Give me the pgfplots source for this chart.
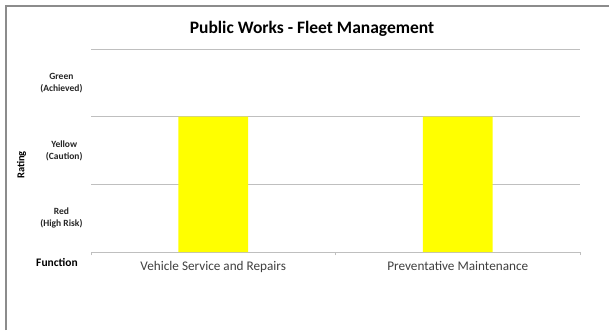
\documentclass[border=0pt]{standalone}
\usepackage{pgfplots}
\pgfplotsset{compat=1.18}
\usepackage{fontspec}
\setmainfont{Carlito}
\definecolor{gridgray}{HTML}{BFBFBF}
\definecolor{framegray}{HTML}{8C8C8C}
\definecolor{lbl}{HTML}{404040}
\definecolor{baryellow}{HTML}{FFFF00}
\begin{document}
\begin{tikzpicture}
\useasboundingbox (0pt,0pt) rectangle (609pt,330pt);
\fill[white] (0pt,0pt) rectangle (609pt,330pt);
\draw[framegray,line width=1.1pt] (6pt,0pt) -- (6pt,324pt) -- (609pt,324pt);
\begin{axis}[
  at={(91pt,78pt)}, anchor=south west,
  scale only axis, width=489pt, height=203pt,
  xmin=0, xmax=2, ymin=0, ymax=3,
  axis lines*=left,
  x axis line style={gridgray, line width=0.8pt},
  y axis line style={draw=none},
  xtick={0,1,2}, xticklabels={},
  xtick style={gridgray, line width=0.8pt},
  ytick style={draw=none},
  major tick length=3pt, tick align=outside,
  extra x ticks={0.5,1.5},
  extra x tick labels={Vehicle Service and Repairs, Preventative Maintenance},
  extra x tick style={major tick length=0pt, tick style={draw=none},
     xticklabel style={font=\fontsize{13.2}{15}\selectfont, text=lbl, yshift=-6pt}},
  ytick={1,2,3}, yticklabels={},
  ymajorgrids, grid style={gridgray, line width=0.8pt},
  extra y ticks={0.5,1.5,2.5},
  extra y tick labels={{Red\\(High Risk)},{Yellow\\(Caution)},{Green\\(Achieved)}},
  extra y tick style={grid=none, major tick length=0pt,
     yticklabel style={font=\bfseries\fontsize{9.5}{12}\selectfont, text=black!85, align=center, xshift=-5pt}},
  ybar, bar width=0.286, bar shift=0pt,
  clip=false,
]
\addplot[fill=baryellow, draw=none] coordinates {(0.5,2) (1.5,2)};
\end{axis}
\node[font=\bfseries\fontsize{17.5}{20}\selectfont] at (312pt,301pt) {Public Works - Fleet Management};
\node[font=\bfseries\fontsize{10.5}{12}\selectfont, rotate=90] at (21.5pt,165pt) {Rating};
\node[font=\bfseries\fontsize{11.5}{13}\selectfont] at (57pt,68pt) {Function};
\end{tikzpicture}
\end{document}
